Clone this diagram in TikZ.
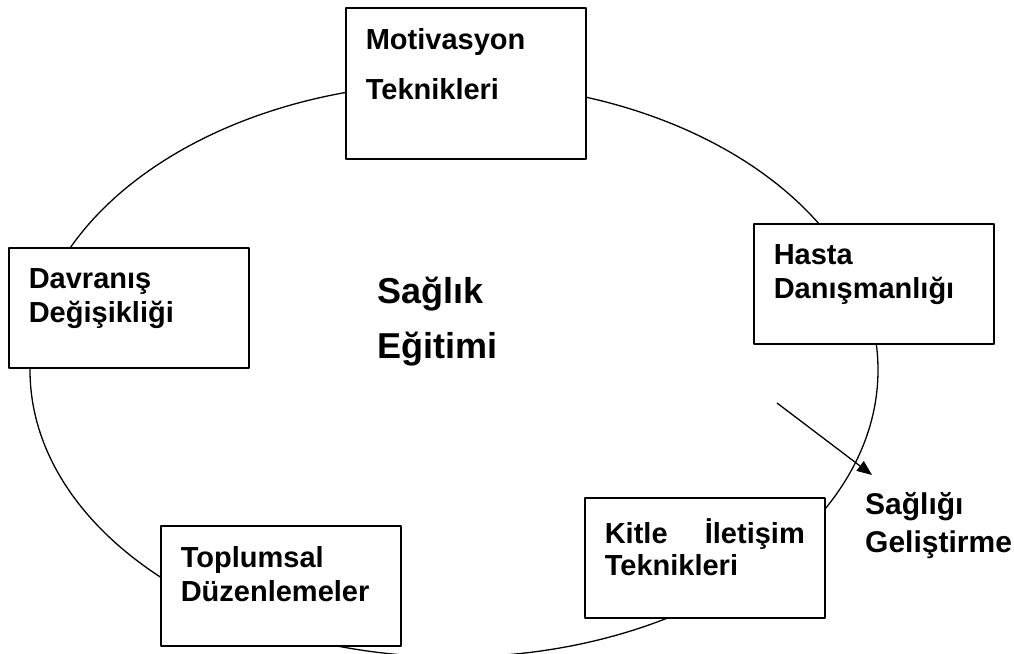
\documentclass[tikz,border=0pt]{standalone}
\usepackage{fontspec}
\setmainfont{Liberation Sans}
\usetikzlibrary{arrows.meta}
\begin{document}
\begin{tikzpicture}[x=1pt,y=-1pt,line join=round,>={Triangle[length=15pt,width=12pt]},
    topic/.style={draw,fill=white,line width=1.6pt,anchor=north west,inner xsep=20pt,inner ysep=21pt,
        font=\bfseries\fontsize{29}{34}\selectfont},
    title/.style={anchor=base west,inner sep=0pt,font=\bfseries}]
    \useasboundingbox (0,0) rectangle (1014,653);
    \draw[line width=1.3pt] (454,370) ellipse [x radius=424pt,y radius=287pt];
    % boxes round the ellipse
    \node[topic] (motivasyon) at (345,7)
        {\parbox[t][109pt][t]{200pt}{\fontsize{29}{50}\selectfont Motivasyon\\Teknikleri}};
    \node[topic] (davranis) at (8,247)
        {\parbox[t][78pt][t]{200pt}{Davranış\\Değişikliği}};
    \node[topic] (hasta) at (753,223)
        {\parbox[t][78pt][t]{200pt}{Hasta\\Danışmanlığı}};
    \node[topic] (kitle) at (584,497)
        {\parbox[t][78pt][t]{200pt}{\fontsize{29}{32}\selectfont Kitle\hfill İletişim\\Teknikleri}};
    \node[topic] (toplumsal) at (160,525)
        {\parbox[t][78pt][t]{200pt}{Toplumsal\\Düzenlemeler}};
    % centre and result
    \node[title] (saglik) at (377,303)
        {\parbox[t]{150pt}{\fontsize{36}{55}\selectfont Sağlık\\Eğitimi}};
    \node[title] (gelistirme) at (865,514)
        {\parbox[t]{150pt}{\fontsize{30}{38}\selectfont Sağlığı\\Geliştirme}};
    \coordinate (ok1) at (777,403);
    \coordinate (ok2) at (872,475);
    \draw[->,line width=1.3pt] (ok1) -- (ok2);
\end{tikzpicture}
\end{document}
